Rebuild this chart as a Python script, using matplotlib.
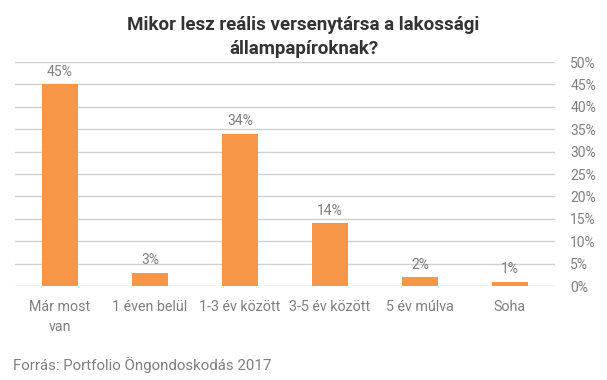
import matplotlib
matplotlib.use('Agg')
import matplotlib.pyplot as plt
from matplotlib.ticker import FuncFormatter

plt.rcParams['font.family'] = ['Roboto', 'DejaVu Sans']

categories = ['Már most\nvan', '1 éven belül', '1-3 év között', '3-5 év között', '5 év múlva', 'Soha']
values = [45, 3, 34, 14, 2, 1]
title = 'Mikor lesz reális versenytársa a lakossági\nállampapíroknak?'
source = 'Forrás: Portfolio Öngondoskodás 2017'

gray = '#7f7f7f'
fig = plt.figure(figsize=(6.07, 3.8), dpi=100)
ax = fig.add_axes([15 / 607, 1 - 286 / 380, 540 / 607, 224 / 380])

x = range(len(categories))
ax.bar(x, values, width=0.4, color='#F79646', zorder=3)
for xi, v in zip(x, values):
    ax.annotate(f'{v}%', (xi, v), xytext=(0, 6), textcoords='offset points',
                ha='center', va='baseline', fontsize=10, color=gray)

ax.set_xlim(-0.5, len(categories) - 0.5)
ax.set_ylim(0, 50)
ax.set_yticks(range(0, 51, 5))
ax.yaxis.set_major_formatter(FuncFormatter(lambda v, p: f'{int(v)}%'))
ax.yaxis.tick_right()
ax.tick_params(axis='y', length=0, pad=11, labelsize=10, labelcolor=gray)
ax.set_xticks(list(x))
ax.set_xticklabels(categories, fontsize=10.3, color=gray, linespacing=1.55)
ax.tick_params(axis='x', length=0, pad=10)
ax.grid(axis='y', color='#d0d0d0', linewidth=1, zorder=0)
for s in ax.spines.values():
    s.set_visible(False)

fig.text(0.5, 1 - 37 / 380, title, ha='center', va='center', fontsize=13.5,
         fontweight='bold', color='#333333', linespacing=1.4)
fig.text(13 / 607, 1 - 365 / 380, source, ha='left', va='center', fontsize=10.8, color=gray)

fig.savefig('out.png', dpi=100)
